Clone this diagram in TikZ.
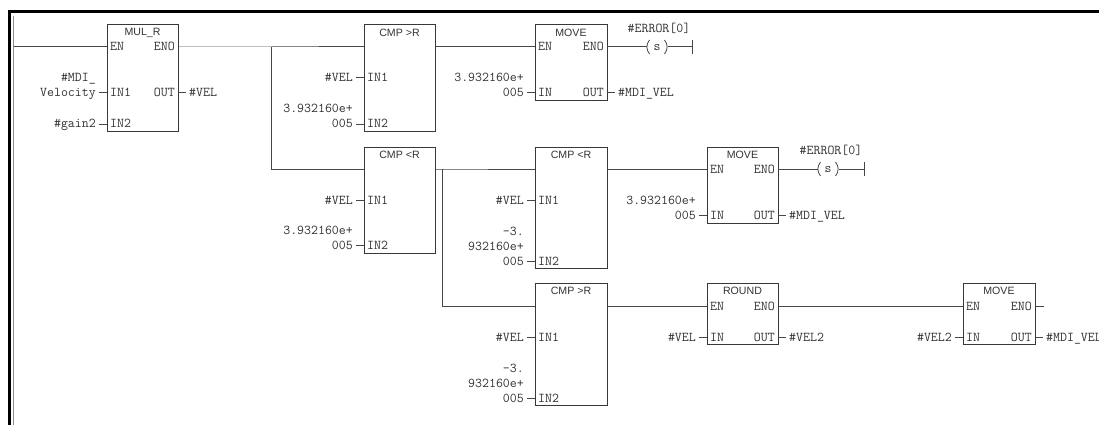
\documentclass[tikz,border=0pt]{standalone}
\usepackage{fontspec}
\setmainfont{Liberation Sans}
\tikzset{
  x=1pt,y=-1pt,
  wire/.style={draw=black!72,line width=1pt},
  fb/.style={draw=black!78,line width=1pt,fill=none,anchor=north west,inner sep=0pt,outer sep=0pt},
  ttl/.style={font=\fontsize{10.6}{12}\selectfont,text=black!80,inner sep=0pt},
  pin/.style={font=\ttfamily\fontsize{13.5}{15}\selectfont,text=black!80,inner sep=0pt,text height=7pt,text depth=0pt},
  pl/.style={pin,anchor=base west},
  pr/.style={pin,anchor=base east},
  coilnode/.style={pin,minimum width=21pt,minimum height=14pt,outer sep=0pt},
}
% \fblock{name}{x1}{y1}{x2}{y2}{title}
\newcommand{\fblock}[6]{%
  \node[fb,minimum width=#4pt-#2pt,minimum height=#5pt-#3pt] (#1) at (#2,#3) {};
  \node[ttl] (#1t) at ({(#2+#4)/2},#3+8) {#6};}
% input pin: \inpin{name}{block x}{y}{inner text}{outer text}
\newcommand{\inpin}[5]{%
  \coordinate (#1a) at (#2,#3);
  \coordinate (#1b) at (#2-8,#3);
  \node[pl] (#1i) at (#2+3,#3+4) {#4};
  \node[pr] (#1o) at (#2-11,#3+4) {#5};
  \draw[wire] (#1a) -- (#1b);}
\newcommand{\outpin}[5]{%
  \coordinate (#1a) at (#2,#3);
  \coordinate (#1b) at (#2+8,#3);
  \node[pr] (#1i) at (#2-3,#3+4) {#4};
  \node[pl] (#1o) at (#2+11,#3+4) {#5};
  \draw[wire] (#1a) -- (#1b);}
\newcommand{\enpin}[3]{% EN label and port
  \coordinate (#1) at (#2,#3);
  \node[pl] (#1l) at (#2+3,#3+4) {EN};}
\newcommand{\enopin}[3]{%
  \coordinate (#1) at (#2,#3);
  \node[pr] (#1l) at (#2-3,#3+4) {ENO};}
\newcommand{\upperl}[3]{\node[pr] at (#1,#2) {#3};}
\begin{document}
\begin{tikzpicture}
\useasboundingbox (0,0) rectangle (1099,425);
\fill[white] (0,0) rectangle (1099,425);
% frame
\coordinate (ftl) at (9.5,11.5);
\coordinate (ftr) at (1099,11.5);
\coordinate (fbl) at (9.5,425);
\draw[black,line width=2.6pt] (ftr) -- (ftl) -- (fbl);
\coordinate (railt) at (13.5,16);
\coordinate (railb) at (13.5,425);
\draw[black!45,line width=1.2pt] (railt) -- (railb);
% blocks
\fblock{mul}{107}{25}{178}{131}{MUL\_R}
\fblock{cmpa}{364}{25}{435}{131}{CMP >R}
\fblock{cmpb}{364}{147}{435}{253}{CMP <R}
\fblock{mova}{535}{25}{607}{101}{MOVE}
\fblock{cmpc}{535}{147}{607}{268}{CMP <R}
\fblock{movb}{707}{147}{778}{223}{MOVE}
\fblock{cmpd}{535}{283}{607}{405}{CMP >R}
\fblock{rnd}{707}{283}{778}{344}{ROUND}
\fblock{movc}{963}{283}{1035}{344}{MOVE}
% EN / ENO
\enpin{mulen}{107}{47}\enopin{muleno}{178}{47}
\enpin{movaen}{535}{47}\enopin{movaeno}{607}{47}
\enpin{movben}{707}{169}\enopin{movbeno}{778}{169}
\enpin{rnden}{707}{306}\enopin{rndeno}{778}{306}
\enpin{movcen}{963}{306}\enopin{movceno}{1035}{306}
% power-flow ports of comparators
\coordinate (cmpain) at (364,47);\coordinate (cmpaout) at (435,47);
\coordinate (cmpbin) at (364,169);\coordinate (cmpbout) at (435,169);
\coordinate (cmpcin) at (535,169);\coordinate (cmpcout) at (607,169);
\coordinate (cmpdin) at (535,306);\coordinate (cmpdout) at (607,306);
\coordinate (railp) at (13.5,47);
\coordinate (brA) at (271,47);\coordinate (brAb) at (271,169);
\coordinate (brB) at (442,169);\coordinate (brBb) at (442,306);
\coordinate (endstub) at (1044,306);
% wires
\draw[wire] (railp) -- (mulen);
\draw[wire] (muleno) -- (brA) -- (cmpain);
\draw[wire] (brA) -- (brAb) -- (cmpbin);
\draw[wire] (cmpaout) -- (movaen);
\draw[wire] (cmpbout) -- (brB) -- (cmpcin);
\draw[wire] (brB) -- (brBb) -- (cmpdin);
\draw[wire] (cmpcout) -- (movben);
\draw[wire] (cmpdout) -- (rnden);
\draw[wire] (rndeno) -- (movcen);
\draw[wire] (movceno) -- (endstub);
% MUL_R pins
\inpin{ma}{107}{93}{IN1}{Velocity}
\node[pr] (mdi) at (96,82) {\#MDI\_};
\inpin{mb}{107}{124}{IN2}{\#gain2}
\outpin{mo}{178}{93}{OUT}{\#VEL}
% CMP a
\inpin{aa}{364}{78}{IN1}{\#VEL}
\inpin{ab}{364}{124}{IN2}{005}
\node[pr] (av) at (353,113) {3.932160e+};
% CMP b
\inpin{ba}{364}{200}{IN1}{\#VEL}
\inpin{bb}{364}{245}{IN2}{005}
\node[pr] (bv) at (353,234) {3.932160e+};
% MOVE a
\inpin{ca}{535}{93}{IN}{005}
\node[pr] (cv) at (524,82) {3.932160e+};
\outpin{co}{607}{93}{OUT}{\#MDI\_VEL}
% CMP c
\inpin{da}{535}{200}{IN1}{\#VEL}
\inpin{db}{535}{261}{IN2}{005}
\node[pr] (dv) at (524,250) {932160e+};
\node[pr] (dw) at (524,235) {-3.};
% MOVE b
\inpin{ea}{707}{215}{IN}{005}
\node[pr] (ev) at (696,204) {3.932160e+};
\outpin{eo}{778}{215}{OUT}{\#MDI\_VEL}
% CMP d
\inpin{fa}{535}{337}{IN1}{\#VEL}
\inpin{fb}{535}{398}{IN2}{005}
\node[pr] (fv) at (524,387) {932160e+};
\node[pr] (fw) at (524,372) {-3.};
% ROUND
\inpin{ga}{707}{337}{IN}{\#VEL}
\outpin{go}{778}{337}{OUT}{\#VEL2}
% MOVE c
\inpin{ha}{963}{337}{IN}{\#VEL2}
\outpin{ho}{1035}{337}{OUT}{\#MDI\_VEL}
% coils
\node[coilnode] (sa) at (657,47) {s};
\node[coilnode] (sb) at (828,169) {s};
\coordinate (ba1) at (692,47);\coordinate (ba2) at (692,40);\coordinate (ba3) at (692,54);
\coordinate (bb1) at (864,169);\coordinate (bb2) at (864,162);\coordinate (bb3) at (864,176);
\draw[wire] (movaeno) -- (sa.west);
\draw[wire] (sa.east) -- (ba1);
\draw[wire] (ba2) -- (ba3);
\draw[wire] (movbeno) -- (sb.west);
\draw[wire] (sb.east) -- (bb1);
\draw[wire] (bb2) -- (bb3);
\foreach \c in {sa,sb}{
  \draw[wire,line width=.8pt] (\c.north west) ++(3,0) to[bend right=40] ([xshift=3pt]\c.south west);
  \draw[wire,line width=.8pt] (\c.north east) ++(-3,0) to[bend left=40] ([xshift=-3pt]\c.south east);
}
\node[pin] (ea1) at (659,29) {\#ERROR[0]};
\node[pin] (ea2) at (831,151) {\#ERROR[0]};
\end{tikzpicture}
\end{document}
